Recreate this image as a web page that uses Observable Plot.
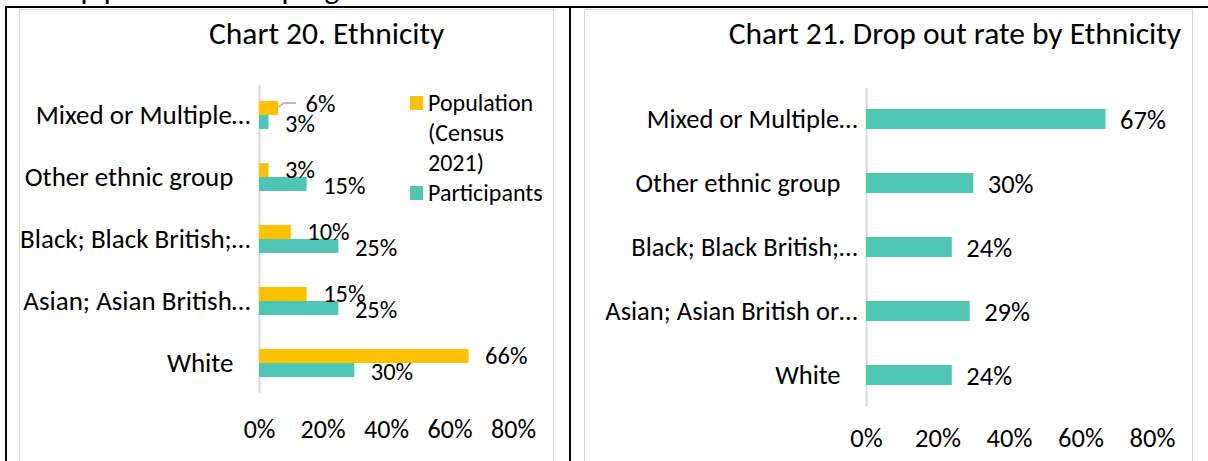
<!DOCTYPE html>
<html><head><meta charset="utf-8">
<script src="https://cdn.jsdelivr.net/npm/d3@7"></script>
<script src="https://cdn.jsdelivr.net/npm/@observablehq/plot@0.6"></script>
<style>
html,body{margin:0;padding:0;background:#fff}
body{width:1208px;height:461px;overflow:hidden;position:relative;font-family:Carlito,Calibri,Lato,sans-serif;color:#000}
.abs{position:absolute}
.title{font-size:31.5px;white-space:nowrap;line-height:1}
.leg{font-size:24px;line-height:30px}
</style></head><body>
<div class="abs" style="left:18px;top:-27px;font-size:31px;line-height:1;white-space:nowrap">Group profile on the program</div>
<div class="abs" style="left:5px;top:6px;width:1203px;height:2px;background:#000"></div>
<div class="abs" style="left:5px;top:6px;width:2px;height:460px;background:#000"></div>
<div class="abs" style="left:569px;top:6px;width:2px;height:460px;background:#000"></div>
<div class="abs" style="left:19px;top:9px;width:533px;height:460px;border:1px solid #d9d9d9;border-bottom:none"></div>
<div class="abs" style="left:584px;top:9px;width:607px;height:460px;border:1px solid #d9d9d9;border-bottom:none"></div>
<div id="c1" class="abs" style="left:19px;top:9px"></div>
<div id="c2" class="abs" style="left:584px;top:9px"></div>
<div id="t1" class="abs title" style="left:209px;top:18px"></div>
<div id="t2" class="abs title" style="right:27px;top:18px"></div>
<div id="leg" class="abs leg" style="left:410px;top:88px"></div>
<script>
// ---- data ----
const categories = ["Mixed or Multiple ethnic groups","Other ethnic group","Black; Black British; Caribbean or African","Asian; Asian British or Asian Welsh","White"];
const tickLabels20 = ["Mixed or Multiple…","Other ethnic group","Black; Black British;…","Asian; Asian British…","White"];
const tickLabels21 = ["Mixed or Multiple…","Other ethnic group","Black; Black British;…","Asian; Asian British or…","White"];
const population = [6, 3, 10, 15, 66];      // Population (Census 2021), %
const participants = [3, 15, 25, 25, 30];   // Participants, %
const dropOut = [67, 30, 24, 29, 24];       // Drop out rate, %
const seriesNames = ["Population (Census 2021)", "Participants"];
const xTicks = [0, 20, 40, 60, 80];
const title20 = "Chart 20. Ethnicity";
const title21 = "Chart 21. Drop out rate by Ethnicity";

const ORANGE = "#FFC000", TEAL = "#4FC6B3", GRID = "#D9D9D9";
const FONT = "Carlito, Calibri, Lato, sans-serif";

const rows = categories.map((c, i) => ({cat: c, pop: population[i], part: participants[i], drop: dropOut[i],
  l20: tickLabels20[i], l21: tickLabels21[i]}));
const lab20 = new Map(rows.map(d => [d.cat, d.l20]));
const lab21 = new Map(rows.map(d => [d.cat, d.l21]));
const trunc = c => lab20.get(c).endsWith("…");
const trunc21 = c => lab21.get(c).endsWith("…");

document.getElementById("t1").textContent = title20;
document.getElementById("t2").textContent = title21;

// legend
const leg = document.getElementById("leg");
const legendItems = [
  {name: seriesNames[0], color: ORANGE, lines: ["Population", "(Census", "2021)"]},
  {name: seriesNames[1], color: TEAL, lines: ["Participants"]}
];
legendItems.forEach(it => {
  const row = document.createElement("div");
  row.style.cssText = "position:relative;padding-left:18px";
  const sw = document.createElement("div");
  sw.style.cssText = `position:absolute;left:0;top:8px;width:13px;height:14px;background:${it.color}`;
  row.appendChild(sw);
  it.lines.forEach(t => { const s = document.createElement("div"); s.textContent = t; row.appendChild(s); });
  leg.appendChild(row);
});

// leader line for the Mixed population label
function leader(index, scales) {
  const g = d3.create("svg:g");
  const d = rows[0];
  const x0 = scales.x(d.pop), y0 = scales.y(d.cat);
  g.append("path")
    .attr("d", `M${x0},${y0 + 6}L${x0 + 6},${y0 + 2}L${x0 + 18},${y0 + 2}`)
    .attr("fill", "none").attr("stroke", "#A6A6A6").attr("stroke-width", 1.5);
  return g.node();
}

const chart20 = Plot.plot({
  width: 534, height: 452,
  marginLeft: 240, marginRight: 40, marginTop: 76, marginBottom: 68,
  style: {fontFamily: FONT, fontSize: "27px", color: "#000", background: "transparent"},
  x: {domain: [0, 80], ticks: xTicks, tickFormat: d => d + "%"},
  y: {domain: categories, paddingInner: 0.55, paddingOuter: 0.25},
  marks: [
    Plot.ruleX([0], {stroke: GRID, strokeWidth: 2}),
    Plot.barX(rows, {y: "cat", x: "pop", fill: ORANGE, insetBottom: 14}),
    Plot.barX(rows, {y: "cat", x: "part", fill: TEAL, insetTop: 14}),
    Plot.text(rows.slice(1), {y: "cat", x: "pop", text: d => d.pop + "%", dx: 16, dy: -7, textAnchor: "start", fill: "#000", fontSize: 24.5}),
    Plot.text(rows.slice(0, 1), {y: "cat", x: "pop", text: d => d.pop + "%", dx: 27, dy: -11, textAnchor: "start", fill: "#000", fontSize: 24.5}),
    Plot.text(rows, {y: "cat", x: "part", text: d => d.part + "%", dx: 16, dy: 9, textAnchor: "start", fill: "#000", fontSize: 24.5}),
    leader,
    Plot.axisX({ticks: xTicks, tickFormat: d => d + "%", tickSize: 0, tickPadding: 26, label: null, fontSize: 26}),
    Plot.axisY(categories.filter(trunc), {tickFormat: c => lab20.get(c), tickSize: 0, tickPadding: 9, label: null}),
    Plot.axisY(categories.filter(c => !trunc(c)), {tickFormat: c => lab20.get(c), tickSize: 0, tickPadding: 26, label: null})
  ]
});
document.getElementById("c1").appendChild(chart20);

const chart21 = Plot.plot({
  width: 608, height: 452,
  marginLeft: 282, marginRight: 40, marginTop: 79, marginBottom: 54,
  style: {fontFamily: FONT, fontSize: "26.5px", color: "#000", background: "transparent"},
  x: {domain: [0, 80], ticks: xTicks, tickFormat: d => d + "%"},
  y: {domain: categories, paddingInner: 0.683, paddingOuter: 0.31},
  marks: [
    Plot.ruleX([0], {stroke: GRID, strokeWidth: 2}),
    Plot.barX(rows, {y: "cat", x: "drop", fill: TEAL}),
    Plot.text(rows, {y: "cat", x: "drop", text: d => d.drop + "%", dx: 14, dy: 1, textAnchor: "start", fill: "#000", fontSize: 26.5}),
    Plot.axisX({ticks: xTicks, tickFormat: d => d + "%", tickSize: 0, tickPadding: 21, label: null, fontSize: 26.5}),
    Plot.axisY(categories.filter(trunc21), {tickFormat: c => lab21.get(c), tickSize: 0, tickPadding: 9, label: null}),
    Plot.axisY(categories.filter(c => !trunc21(c)), {tickFormat: c => lab21.get(c), tickSize: 0, tickPadding: 26, label: null})
  ]
});
document.getElementById("c2").appendChild(chart21);
</script>
</body></html>
